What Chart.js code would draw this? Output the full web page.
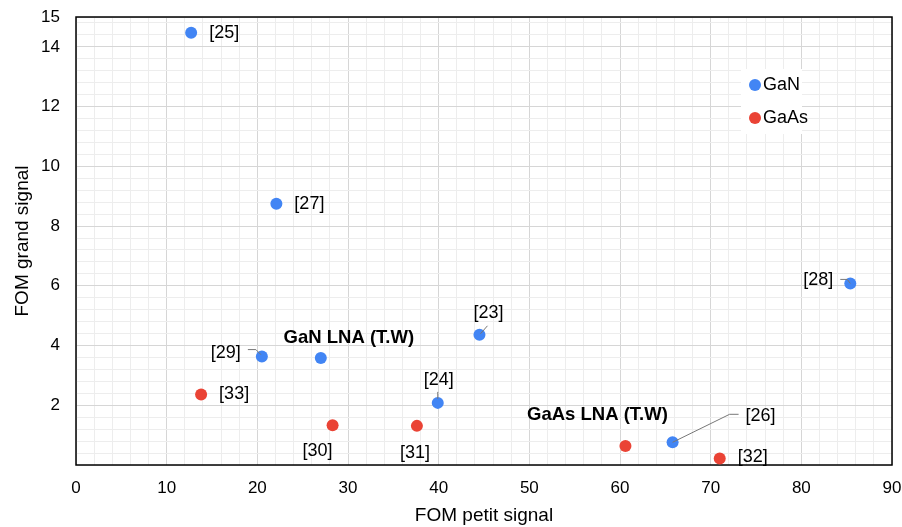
<!DOCTYPE html>
<html>
<head>
<meta charset="utf-8">
<script src="https://cdn.jsdelivr.net/npm/chart.js@4/dist/chart.umd.min.js"></script>
<style>
  html, body { margin: 0; padding: 0; background: #fff; }
  #wrap { width: 902px; height: 527px; }
</style>
</head>
<body>
<div id="wrap"><canvas id="myChart" width="902" height="527"></canvas></div>
<script>
// data
var ganNames = ["[25]", "[27]", "[28]", "[23]", "[29]", "GaN LNA (T.W)", "[24]", "[26]"];
var ganX = [12.7, 22.1, 85.4, 44.5, 20.5, 27.0, 39.9, 65.8];
var ganY = [14.47, 8.75, 6.08, 4.36, 3.63, 3.58, 2.08, 0.76];

var gaasNames = ["[33]", "[30]", "[31]", "GaAs LNA (T.W)", "[32]"];
var gaasX = [13.8, 28.3, 37.6, 60.6, 71.0];
var gaasY = [2.36, 1.33, 1.31, 0.64, 0.22];

var xTickLabels = [0, 10, 20, 30, 40, 50, 60, 70, 80, 90];
var yTickLabels = [2, 4, 6, 8, 10, 12, 14, 15];

// where each label sits relative to its point (px), and its leader line if any
var labelPos = {
  "[25]": { dx: 18, dy: 0, align: "left" },
  "[27]": { dx: 18, dy: 0, align: "left" },
  "[28]": { dx: -17, dy: -3, align: "right", line: [[-10, -4], [-3, -4], [0, 0]] },
  "[23]": { dx: 9, dy: -22, align: "center", line: [[8, -9], [1, -1]] },
  "[29]": { dx: -21, dy: -4, align: "right", line: [[-14, -7], [-6, -7], [-1, -2]] },
  "GaN LNA (T.W)": { dx: 28, dy: -20, align: "center", bold: true },
  "[24]": { dx: 1, dy: -23, align: "center", line: [[0, -11], [0, -4]] },
  "[26]": { dx: 73, dy: -26, align: "left", line: [[0, 0], [57, -28], [66, -28]] },
  "[33]": { dx: 18, dy: 0, align: "left" },
  "[30]": { dx: -15, dy: 26, align: "center" },
  "[31]": { dx: -2, dy: 27, align: "center" },
  "GaAs LNA (T.W)": { dx: -28, dy: -31, align: "center", bold: true },
  "[32]": { dx: 18, dy: -1, align: "left" }
};

var FONT = "'Liberation Sans', Arial, sans-serif";
var blue = "#4285F4";
var red = "#EA4335";

function toPoints(xs, ys) {
  return xs.map(function (x, i) { return { x: x, y: ys[i] }; });
}

// labels, leader lines, frame and legend
var extras = {
  id: "extras",
  beforeDatasetsDraw: function (chart) {
    var ctx = chart.ctx;
    var a = chart.chartArea;
    ctx.save();
    ctx.strokeStyle = "#000";
    ctx.lineWidth = 1.5;
    ctx.strokeRect(a.left, a.top, a.right - a.left, a.bottom - a.top);
    ctx.restore();
  },
  afterDatasetsDraw: function (chart) {
    var ctx = chart.ctx;
    var a = chart.chartArea;
    ctx.save();
    chart.data.datasets.forEach(function (ds, di) {
      var meta = chart.getDatasetMeta(di);
      meta.data.forEach(function (pt, i) {
        var name = ds.names[i];
        var p = labelPos[name];
        if (!p) return;
        if (p.line) {
          ctx.beginPath();
          ctx.strokeStyle = "#777";
          ctx.lineWidth = 1;
          p.line.forEach(function (q, k) {
            if (k === 0) ctx.moveTo(pt.x + q[0], pt.y + q[1]);
            else ctx.lineTo(pt.x + q[0], pt.y + q[1]);
          });
          ctx.stroke();
        }
        ctx.fillStyle = "#000";
        ctx.font = (p.bold ? "bold 18.5px " : "18px ") + FONT;
        ctx.textAlign = p.align;
        ctx.textBaseline = "middle";
        ctx.fillText(name, pt.x + p.dx, pt.y + p.dy);
      });
    });

    // legend box inside the plot, top right
    var bx = a.right - 151, by = a.top + 52;
    ctx.fillStyle = "#fff";
    ctx.fillRect(bx, by, 61, 65);
    chart.data.datasets.forEach(function (ds, di) {
      var cy = by + 16 + di * 33;
      ctx.beginPath();
      ctx.fillStyle = ds.backgroundColor;
      ctx.arc(bx + 14, cy, 6, 0, Math.PI * 2);
      ctx.fill();
      ctx.fillStyle = "#000";
      ctx.font = "18px " + FONT;
      ctx.textAlign = "left";
      ctx.textBaseline = "middle";
      ctx.fillText(ds.label, bx + 22, cy);
    });
    ctx.restore();
  }
};

var ctx = document.getElementById("myChart").getContext("2d");
var chart = new Chart(ctx, {
  type: "scatter",
  data: {
    datasets: [
      {
        label: "GaN",
        names: ganNames,
        data: toPoints(ganX, ganY),
        backgroundColor: blue,
        borderWidth: 0,
        pointRadius: 6
      },
      {
        label: "GaAs",
        names: gaasNames,
        data: toPoints(gaasX, gaasY),
        backgroundColor: red,
        borderWidth: 0,
        pointRadius: 6
      }
    ]
  },
  options: {
    responsive: false,
    animation: false,
    layout: { padding: { top: 17, right: 10, left: 0, bottom: 0 } },
    plugins: {
      legend: { display: false },
      tooltip: { enabled: false }
    },
    scales: {
      x: {
        type: "linear",
        min: xTickLabels[0],
        max: xTickLabels[xTickLabels.length - 1],
        afterFit: function (s) {
          s.height = 62;
          s.paddingLeft = 0;
          s.paddingRight = 0;
        },
        afterBuildTicks: function (s) {
          var t = [];
          for (var v = 0; v <= 90; v += 2) t.push({ value: v });
          s.ticks = t;
        },
        grid: {
          drawTicks: false,
          color: function (c) {
            return xTickLabels.indexOf(c.tick.value) >= 0 ? "#d6d6d6" : "#ededed";
          }
        },
        border: { display: false },
        ticks: {
          autoSkip: false,
          maxRotation: 0,
          padding: 13,
          color: "#000",
          font: { family: FONT, size: 17 },
          callback: function (v) { return xTickLabels.indexOf(v) >= 0 ? String(v) : ""; }
        },
        title: {
          display: true,
          text: "FOM petit signal",
          color: "#000",
          font: { family: FONT, size: 19 },
          padding: { top: 4, bottom: 0 }
        }
      },
      y: {
        type: "linear",
        min: 0,
        max: 15,
        afterFit: function (s) {
          s.width = 76;
          s.paddingTop = 0;
          s.paddingBottom = 0;
        },
        afterBuildTicks: function (s) {
          var t = [];
          for (var i = 0; i <= 37; i++) t.push({ value: Math.round(i * 4) / 10 });
          t.push({ value: 15 });
          s.ticks = t;
        },
        grid: {
          drawTicks: false,
          color: function (c) {
            return yTickLabels.indexOf(c.tick.value) >= 0 ? "#d6d6d6" : "#ededed";
          }
        },
        border: { display: false },
        ticks: {
          autoSkip: false,
          padding: 16,
          color: "#000",
          font: { family: FONT, size: 17 },
          callback: function (v) { return yTickLabels.indexOf(v) >= 0 ? String(v) : ""; }
        },
        title: {
          display: true,
          text: "FOM grand signal",
          color: "#000",
          font: { family: FONT, size: 19 },
          padding: { top: 11, bottom: 4 }
        }
      }
    }
  },
  plugins: [extras]
});
</script>
</body>
</html>
